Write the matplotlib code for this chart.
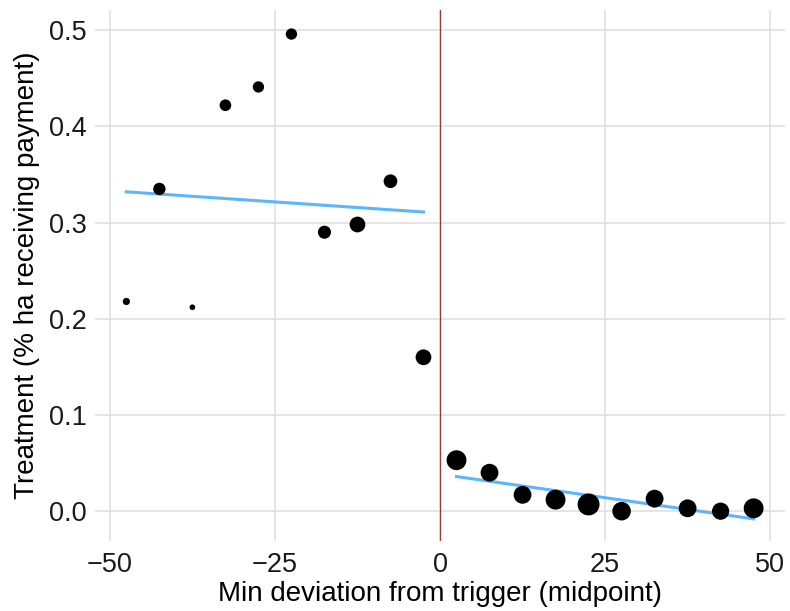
import numpy as np
import matplotlib
matplotlib.use("Agg")
from matplotlib import pyplot as plt

plt.rcParams['font.family'] = ['Liberation Sans', 'DejaVu Sans']

# binned means (bin midpoints)
bins = [-47.5, -42.5, -37.5, -32.5, -27.5, -22.5, -17.5, -12.5, -7.5, -2.5,
        2.5, 7.5, 12.5, 17.5, 22.5, 27.5, 32.5, 37.5, 42.5, 47.5]
treat = [0.218, 0.335, 0.212, 0.422, 0.441, 0.496, 0.290, 0.298, 0.343, 0.160,
         0.053, 0.040, 0.017, 0.012, 0.007, 0.000, 0.013, 0.003, 0.000, 0.003]
weight = [49, 144, 30, 128, 121, 121, 161, 234, 177, 234,
          372, 299, 299, 372, 454, 324, 299, 299, 279, 372]

# linear fits each side of the trigger
fit_left_x = [-47.5, -2.5]
fit_left_y = [0.332, 0.311]
fit_right_x = [2.5, 47.5]
fit_right_y = [0.036, -0.008]

fig = plt.figure(figsize=(7.9, 6.11), dpi=100)
ax = fig.add_axes([95/790, 1 - 541/611, 690/790, 531/611])

ax.grid(True, color='#dedede', linewidth=1.1)
ax.set_axisbelow(True)
for s in ax.spines.values():
    s.set_visible(False)

ax.axvline(0, color='#a0392a', linewidth=0.9, zorder=2)
ax.plot(fit_left_x, fit_left_y, color='#5cb5ff', linewidth=2.2, zorder=3)
ax.plot(fit_right_x, fit_right_y, color='#5cb5ff', linewidth=2.2, zorder=3)
ax.scatter(bins, treat, s=np.array(weight) * 0.55, color='black',
           linewidths=0, zorder=4)

ax.set_xlim(-52.25, 52.25)
ax.set_ylim(-0.031, 0.521)
ax.set_xticks([-50, -25, 0, 25, 50])
ax.set_xticklabels(['\u221250', '\u221225', '0', '25', '50'])
ax.set_yticks([0.0, 0.1, 0.2, 0.3, 0.4, 0.5])
ax.set_yticklabels(['0.0', '0.1', '0.2', '0.3', '0.4', '0.5'])
ax.tick_params(length=0, labelsize=19.5, colors='#1a1a1a')
ax.tick_params(axis='x', pad=8)
ax.tick_params(axis='y', pad=6)

ax.set_xlabel('Min deviation from trigger (midpoint)', fontsize=20, va='center')
ax.set_ylabel('Treatment (% ha receiving payment)', fontsize=20, va='center')
ax.xaxis.set_label_coords(0.5, -0.0998)
ax.yaxis.set_label_coords(-0.0986, 0.5)

fig.savefig('out.png', dpi=100)
